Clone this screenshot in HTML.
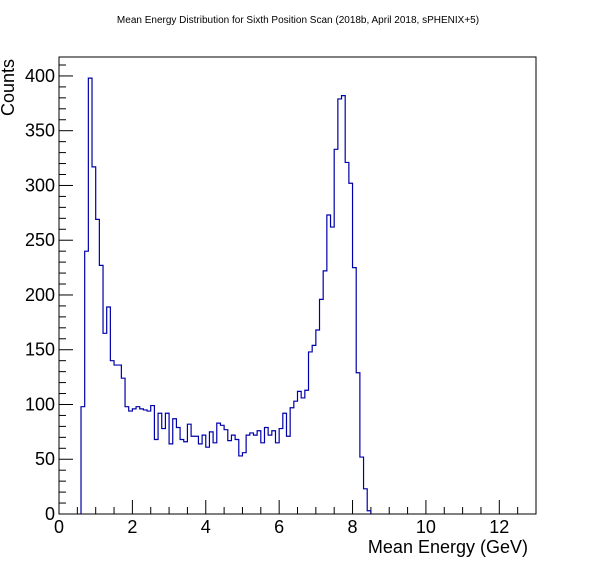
<!DOCTYPE html>
<html><head><meta charset="utf-8">
<style>
body{margin:0;background:#fff;}
svg{display:block;font-family:"Liberation Sans",Arial,sans-serif;}
</style></head>
<body>
<svg id="chart" width="596" height="572" viewBox="0 0 596 572" xmlns="http://www.w3.org/2000/svg">
<rect width="596" height="572" fill="#fff"/>
<text x="298" y="23" font-size="10" text-anchor="middle">Mean Energy Distribution for Sixth Position Scan (2018b, April 2018, sPHENIX+5)</text>
<g id="axes"></g>
<path id="hist" fill="none" stroke="#0000aa" stroke-width="1.2"/>
<rect x="59" y="57" width="477" height="457" fill="none" stroke="#000" stroke-width="1"/>
<text x="528" y="553" font-size="18" text-anchor="end">Mean Energy (GeV)</text>
<text transform="translate(14,116) rotate(-90)" font-size="18" text-anchor="start">Counts</text>
</svg>
<script>
const binStart = 0.6;
const binWidth = 0.1;
const counts = [98,240,398,317,269,227,165,189,140,136,136,124,98,94,96,98,96,95,94,99,
68,92,78,92,64,87,79,68,66,82,71,71,64,72,61,75,65,83,81,77,67,72,68,53,56,72,74,72,76,65,
79,72,76,65,78,92,71,97,103,112,106,113,148,154,168,196,222,273,262,333,379,382,321,302,225,129,52,23,3];
const xTicks = [0,2,4,6,8,10,12];
const yTicks = [0,50,100,150,200,250,300,350,400];
const xMin=0,xMax=13,yMin=0,yMax=417.3;
const L=59,R=536,T=57,B=514;
function sx(v){return L+(v-xMin)/(xMax-xMin)*(R-L);}
function sy(v){return B-(v-yMin)/(yMax-yMin)*(B-T);}
const NS="http://www.w3.org/2000/svg";
const axes=document.getElementById('axes');
function line(x1,y1,x2,y2,name){
  const l=document.createElementNS(NS,'line');
  l.setAttribute('x1',x1);l.setAttribute('y1',y1);l.setAttribute('x2',x2);l.setAttribute('y2',y2);
  l.setAttribute('stroke','#000');l.setAttribute('stroke-width','1');
  
  
  axes.appendChild(l);
}
function text(x,y,s,anchor,name){
  const t=document.createElementNS(NS,'text');
  t.setAttribute('x',x);t.setAttribute('y',y);t.setAttribute('font-size','18');t.setAttribute('text-anchor',anchor);
  t.textContent=s;
  
  
  axes.appendChild(t);
}
// y minor ticks
for(let v=0;v<=yMax;v+=10){
  const major=v%50===0;
  line(L,sy(v),L+(major?14:7),sy(v),major?'y-major-tick':'y-minor-tick');
}
yTicks.forEach(v=>text(L-4,sy(v)+6,String(v),'end','y-tick-label'));
for(let v=0;v<=xMax;v+=0.5){
  const major=Math.abs(v%2)<1e-6;
  line(sx(v),B,sx(v),B-(major?14:7),major?'x-major-tick':'x-minor-tick');
}
xTicks.forEach(v=>text(sx(v),533,String(v),'middle','x-tick-label'));
// histogram step path
let d='M'+sx(binStart)+','+sy(0);
counts.forEach((c,i)=>{
  const x0=sx(binStart+i*binWidth),x1=sx(binStart+(i+1)*binWidth);
  d+=' L'+x0+','+sy(c)+' L'+x1+','+sy(c);
});
d+=' L'+sx(binStart+counts.length*binWidth)+','+sy(0);
document.getElementById('hist').setAttribute('d',d);
</script>
</body></html>
